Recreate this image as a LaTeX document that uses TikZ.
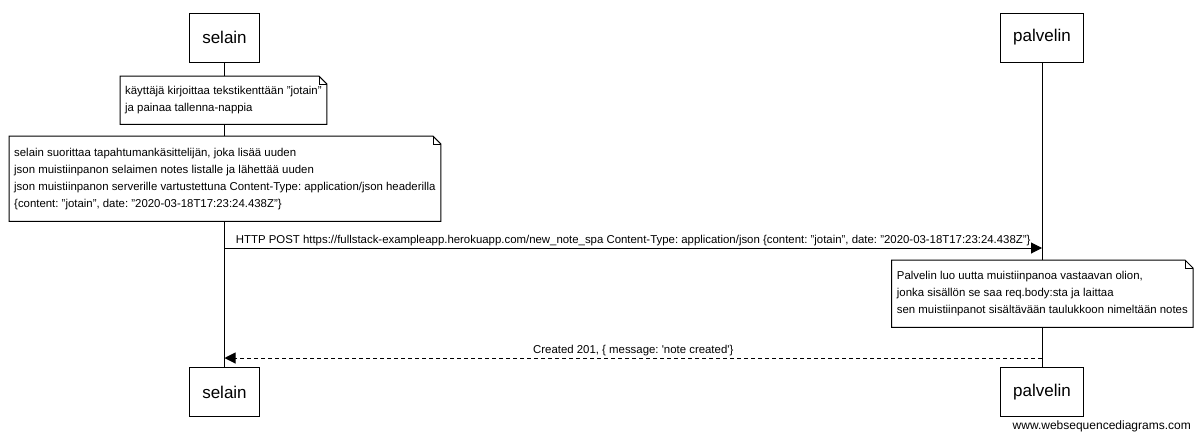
\documentclass[tikz,border=0pt]{standalone}
\usepackage{fontspec}
\setmainfont{Liberation Sans}
\usetikzlibrary{arrows.meta}
\frenchspacing

\tikzset{
  actor/.style={draw, fill=white, line width=1pt, inner xsep=12.5pt, minimum height=49pt, font=\fontsize{17}{20}\selectfont},
  notebox/.style={fill=white, align=left, inner xsep=5pt, inner ysep=0pt, anchor=north west, font=\fontsize{11.4}{17}\selectfont},
  lifeline/.style={line width=1pt},
  msg/.style={line width=1pt, -{Triangle[length=11pt,width=11pt]}},
  reply/.style={msg, dash pattern=on 4pt off 3pt},
  msglabel/.style={anchor=south, inner sep=2pt, font=\fontsize{11.4}{13}\selectfont},
}
% note outline with folded corner
\newcommand{\dogear}[1]{%
  \draw[line width=1pt] (#1.north west) -- ([xshift=-8pt]#1.north east) -- ([yshift=-8pt]#1.north east) -- (#1.south east) -- (#1.south west) -- cycle;
  \draw[line width=0.6pt] ([xshift=-8pt]#1.north east) |- ([yshift=-8pt]#1.north east);
}

\begin{document}
\begin{tikzpicture}[x=1pt, y=-1pt]
  \useasboundingbox (0,0) rectangle (1200,437);

  % Actors
  \node[actor] (selaintop) at (224.5,37.5) {selain};
  \node[actor] (palvelintop) at (1042,37.5) {palvelin};
  \node[actor] (selainbottom) at (224.5,392) {selain};
  \node[actor] (palvelinbottom) at (1042,392) {palvelin};

  % Lifelines
  \draw[lifeline] (selaintop) -- (selainbottom);
  \draw[lifeline] (palvelintop) -- (palvelinbottom);

  % Notes
  \node[notebox, minimum height=48pt] (typenote) at (120,76)
    {käyttäjä kirjoittaa tekstikenttään "jotain"\\ja painaa tallenna-nappia};
  \dogear{typenote}

  \node[notebox, minimum height=85pt] (handlernote) at (9,136)
    {selain suorittaa tapahtumankäsittelijän, joka lisää uuden\\
     json muistiinpanon selaimen notes listalle ja lähettää uuden\\
     json muistiinpanon serverille vartustettuna Content-Type: application/json headerilla\\
     \{content: "jotain", date: "2020-03-18T17:23:24.438Z"\}};
  \dogear{handlernote}

  \node[notebox, minimum height=67pt, anchor=north east] (servernote) at (1193,260)
    {Palvelin luo uutta muistiinpanoa vastaavan olion,\\
     jonka sisällön se saa req.body:sta ja laittaa\\
     sen muistiinpanot sisältävään taulukkoon nimeltään notes};
  \dogear{servernote}

  % Messages
  \coordinate (postfrom) at (224.5,248);
  \coordinate (postto) at (1042,248);
  \draw[msg] (postfrom) -- node[msglabel] (postlabel)
    {HTTP POST https://fullstack-exampleapp.herokuapp.com/new\_note\_spa Content-Type: application/json \{content: "jotain", date: "2020-03-18T17:23:24.438Z"\}} (postto);

  \coordinate (replyfrom) at (1042,358);
  \coordinate (replyto) at (224.5,358);
  \draw[reply] (replyfrom) -- node[msglabel] (replylabel)
    {Created 201, \{ message: \textquotesingle note created\textquotesingle\}} (replyto);

  \node[anchor=east, inner sep=0pt, font=\fontsize{12}{14}\selectfont] (credit) at (1191,426) {www.websequencediagrams.com};
\end{tikzpicture}
\end{document}
